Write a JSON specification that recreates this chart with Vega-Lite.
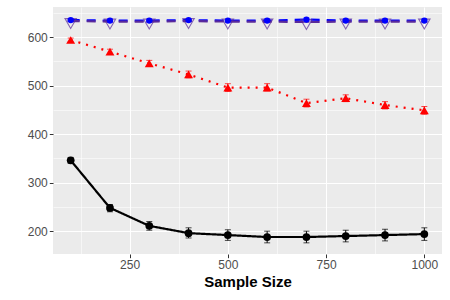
{
  "$schema": "https://vega.github.io/schema/vega-lite/v6.json",
  "width": 389,
  "height": 247,
  "autosize": {"type": "none"},
  "padding": {"left": 53, "top": 7, "right": 8, "bottom": 46},
  "background": "white",
  "config": {
    "view": {"fill": "#EBEBEB", "stroke": null},
    "font": "Liberation Sans"
  },
  "data": {
    "values": [
      {"n": 100, "series": "A", "mean": 346, "lo": 340, "hi": 352},
      {"n": 200, "series": "A", "mean": 248, "lo": 240, "hi": 255},
      {"n": 300, "series": "A", "mean": 211, "lo": 202, "hi": 220},
      {"n": 400, "series": "A", "mean": 196, "lo": 186, "hi": 207},
      {"n": 500, "series": "A", "mean": 192, "lo": 181, "hi": 203},
      {"n": 600, "series": "A", "mean": 188, "lo": 176, "hi": 200},
      {"n": 700, "series": "A", "mean": 188, "lo": 176, "hi": 200},
      {"n": 800, "series": "A", "mean": 190, "lo": 178, "hi": 202},
      {"n": 900, "series": "A", "mean": 192, "lo": 180, "hi": 204},
      {"n": 1000, "series": "A", "mean": 194, "lo": 181, "hi": 207},
      {"n": 100, "series": "B", "mean": 594, "lo": 590, "hi": 598},
      {"n": 200, "series": "B", "mean": 570, "lo": 565, "hi": 575},
      {"n": 300, "series": "B", "mean": 546, "lo": 540, "hi": 552},
      {"n": 400, "series": "B", "mean": 523, "lo": 516, "hi": 530},
      {"n": 500, "series": "B", "mean": 496, "lo": 488, "hi": 504},
      {"n": 600, "series": "B", "mean": 496, "lo": 489, "hi": 504},
      {"n": 700, "series": "B", "mean": 464, "lo": 456, "hi": 472},
      {"n": 800, "series": "B", "mean": 474, "lo": 467, "hi": 481},
      {"n": 900, "series": "B", "mean": 460, "lo": 452, "hi": 467},
      {"n": 1000, "series": "B", "mean": 449, "lo": 441, "hi": 457},
      {"n": 100, "series": "C", "mean": 635, "lo": 632, "hi": 638},
      {"n": 200, "series": "C", "mean": 634, "lo": 631, "hi": 637},
      {"n": 300, "series": "C", "mean": 634, "lo": 631, "hi": 637},
      {"n": 400, "series": "C", "mean": 635, "lo": 632, "hi": 638},
      {"n": 500, "series": "C", "mean": 634, "lo": 631, "hi": 637},
      {"n": 600, "series": "C", "mean": 634, "lo": 631, "hi": 637},
      {"n": 700, "series": "C", "mean": 636, "lo": 633, "hi": 639},
      {"n": 800, "series": "C", "mean": 634, "lo": 631, "hi": 637},
      {"n": 900, "series": "C", "mean": 634, "lo": 631, "hi": 637},
      {"n": 1000, "series": "C", "mean": 634, "lo": 631, "hi": 637},
      {"n": 100, "series": "D", "mean": 633, "lo": 632, "hi": 634},
      {"n": 200, "series": "D", "mean": 632, "lo": 631, "hi": 633},
      {"n": 300, "series": "D", "mean": 632, "lo": 631, "hi": 633},
      {"n": 400, "series": "D", "mean": 633, "lo": 632, "hi": 634},
      {"n": 500, "series": "D", "mean": 632, "lo": 631, "hi": 633},
      {"n": 600, "series": "D", "mean": 632, "lo": 631, "hi": 633},
      {"n": 700, "series": "D", "mean": 631, "lo": 630, "hi": 632},
      {"n": 800, "series": "D", "mean": 632, "lo": 631, "hi": 633},
      {"n": 900, "series": "D", "mean": 632, "lo": 631, "hi": 633},
      {"n": 1000, "series": "D", "mean": 632, "lo": 631, "hi": 633}
    ]
  },
  "encoding": {
    "x": {
      "field": "n", "type": "quantitative",
      "scale": {"domain": [55, 1045], "nice": false, "zero": false},
      "axis": {
        "title": "Sample Size",
        "values": [125, 250, 375, 500, 625, 750, 875, 1000],
        "labelExpr": "datum.value % 250 === 0 ? datum.label : ''",
        "format": "d",
        "domain": false,
        "grid": true,
        "gridColor": "white",
        "gridWidth": {"expr": "datum.value % 250 === 0 ? 1.1 : 0.55"},
        "tickColor": "#333333",
        "tickOpacity": {"expr": "datum.value % 250 === 0 ? 1 : 0"},
        "tickSize": 3.7,
        "labelPadding": 2,
        "labelColor": "#4D4D4D",
        "labelFontSize": 12,
        "labelFont": "Liberation Sans",
        "titleFont": "Liberation Sans",
        "titleFontSize": 15,
        "titleFontWeight": "bold",
        "titleColor": "black",
        "titlePadding": 4
      }
    },
    "y": {
      "field": "mean", "type": "quantitative",
      "scale": {"domain": [153, 662], "nice": false, "zero": false},
      "axis": {
        "title": null,
        "values": [200, 250, 300, 350, 400, 450, 500, 550, 600, 650],
        "labelExpr": "datum.value % 100 === 0 ? datum.label : ''",
        "domain": false,
        "grid": true,
        "gridColor": "white",
        "gridWidth": {"expr": "datum.value % 100 === 0 ? 1.1 : 0.55"},
        "tickColor": "#333333",
        "tickOpacity": {"expr": "datum.value % 100 === 0 ? 1 : 0"},
        "tickSize": 3.7,
        "labelPadding": 2,
        "labelColor": "#4D4D4D",
        "labelFontSize": 12,
        "labelFont": "Liberation Sans"
      }
    },
    "color": {
      "field": "series", "type": "nominal", "legend": null,
      "scale": {"domain": ["A", "B", "C", "D"], "range": ["#000000", "#FF0000", "#0000FF", "#5A2A9A"]}
    }
  },
  "layer": [
    {
      "mark": {"type": "line", "strokeWidth": 2.2},
      "encoding": {
        "strokeDash": {
          "field": "series", "type": "nominal", "legend": null,
          "scale": {"domain": ["A", "B", "C", "D"], "range": [[1, 0], [2, 6], [9, 7], [9, 7]]}
        }
      }
    },
    {
      "mark": {"type": "rule", "strokeWidth": 1},
      "encoding": {"y": {"field": "lo", "type": "quantitative"}, "y2": {"field": "hi"}}
    },
    {
      "mark": {"type": "tick", "size": 6, "thickness": 1, "orient": "horizontal"},
      "encoding": {"y": {"field": "lo", "type": "quantitative"}}
    },
    {
      "mark": {"type": "tick", "size": 6, "thickness": 1, "orient": "horizontal"},
      "encoding": {"y": {"field": "hi", "type": "quantitative"}}
    },
    {
      "transform": [{"filter": "datum.series === 'D'"}],
      "mark": {"type": "point", "shape": "triangle-down", "filled": false, "size": 130, "strokeWidth": 1.1, "yOffset": 2.5}
    },
    {
      "transform": [{"filter": "datum.series === 'C'"}],
      "mark": {"type": "point", "shape": "circle", "filled": true, "size": 40, "opacity": 1}
    },
    {
      "transform": [{"filter": "datum.series === 'A'"}],
      "mark": {"type": "point", "shape": "circle", "filled": true, "size": 60, "opacity": 1}
    },
    {
      "transform": [{"filter": "datum.series === 'B'"}],
      "mark": {"type": "point", "shape": "triangle-up", "filled": true, "size": 80, "opacity": 1}
    }
  ]
}
